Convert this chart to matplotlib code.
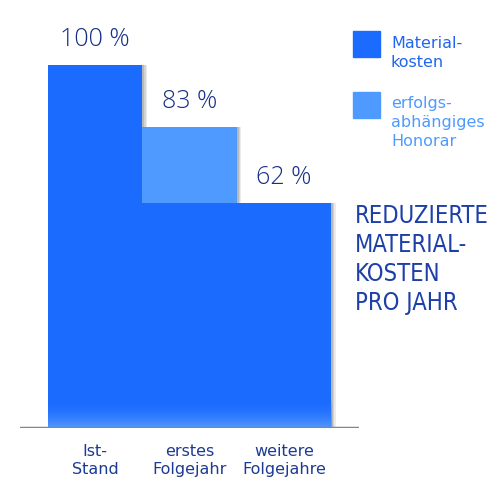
import matplotlib.pyplot as plt
import numpy as np

# data
categories = ["Ist-\nStand", "erstes\nFolgejahr", "weitere\nFolgejahre"]
materialkosten = [100, 62, 62]
honorar = [0, 21, 0]
totals = [100, 83, 62]
legend_labels = ["Material-\nkosten", "erfolgs-\nabhängiges\nHonorar"]
side_text = "REDUZIERTE\nMATERIAL-\nKOSTEN\nPRO JAHR"

dark_blue = "#1b6bff"
light_blue = "#4f9aff"
navy = "#1d3a94"

fig = plt.figure(figsize=(5, 5), dpi=100)
ax = fig.add_axes([0.0394, 0.144, 0.6792, 0.726])

x = np.arange(len(categories))

# soft shadows behind the bars
for k, a in [(0.05, 0.08), (0.035, 0.1), (0.02, 0.12)]:
    ax.bar(x + k, totals, width=1.0, color="#000000", alpha=a, zorder=1)
ax.bar(x, materialkosten, width=1.0, color=dark_blue, zorder=2)
ax.bar(x, honorar, width=1.0, bottom=materialkosten, color=light_blue, zorder=2)

# lighter gradient at the bottom of the bars
grad = np.linspace(0, 1, 50).reshape(-1, 1)
ax.imshow(grad, extent=(-0.5, 2.5, 0, 8), aspect="auto", origin="lower",
          cmap=plt.matplotlib.colors.LinearSegmentedColormap.from_list(
              "g", [(0.35, 0.62, 1.0, 0.9), (0.1, 0.42, 1.0, 0.0)]), zorder=3)

# base line
ax.axhline(0, color="#7a8a90", lw=2.5, zorder=4)

for xi, t in zip(x, totals):
    ax.text(xi, t + 3.5, f"{t} %", ha="center", va="bottom", fontsize=18,
            family="Open Sans", weight="light", color="#152f85")

for xi, c in zip(x, categories):
    ax.text(xi, -4.5, c, ha="center", va="top", fontsize=11.5,
            family="DejaVu Sans", weight="medium", color=navy, linespacing=1.2)

ax.set_xlim(-0.8, 2.8)
ax.set_ylim(0, 100)
ax.axis("off")

# legend
fig.patches.append(plt.Rectangle((353 / 500, 1 - 57 / 500), 27 / 500, 26 / 500,
                                 transform=fig.transFigure, color=dark_blue))
fig.patches.append(plt.Rectangle((353 / 500, 1 - 118 / 500), 27 / 500, 26 / 500,
                                 transform=fig.transFigure, color=light_blue))
fig.text(391 / 500, 1 - 36 / 500, legend_labels[0], ha="left", va="top",
         fontsize=11.5, color="#2166f0", linespacing=1.35)
fig.text(391 / 500, 1 - 96 / 500, legend_labels[1], ha="left", va="top",
         fontsize=11.5, color=light_blue, linespacing=1.35)

fig.text(355 / 500, 1 - 204 / 500, side_text, ha="left", va="top",
         fontsize=17, family="DejaVu Sans", stretch="condensed",
         color="#1c3fa8", linespacing=1.27)

fig.savefig("out.png", dpi=100)
